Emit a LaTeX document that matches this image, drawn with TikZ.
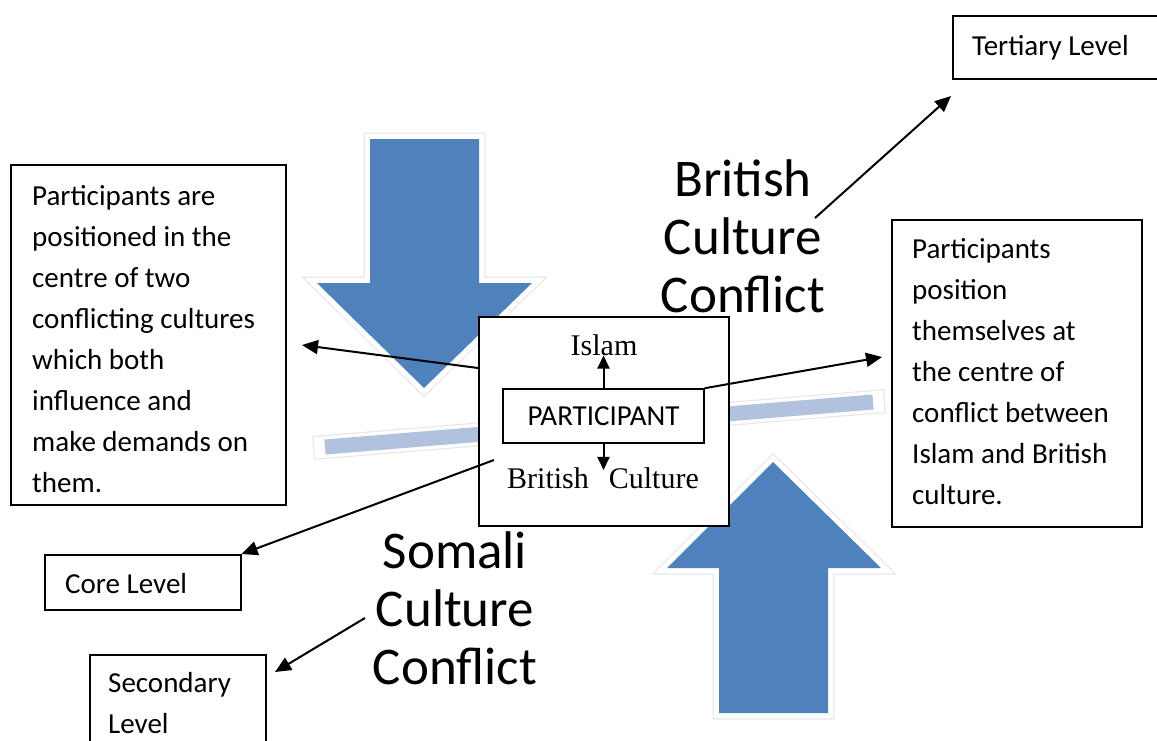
\documentclass[tikz,border=0pt]{standalone}
\usepackage{fontspec}
\newfontfamily\calibri{Carlito}
\newfontfamily\cambria{Liberation Serif}
\usetikzlibrary{arrows.meta,calc}
\definecolor{arrowblue}{RGB}{79,129,189}
\definecolor{barblue}{RGB}{176,194,222}
\begin{document}
\begin{tikzpicture}[x=1pt,y=-1pt,
  box/.style={draw, line width=1.6pt, fill=white, inner sep=0pt, anchor=north west},
  conn/.style={line width=2pt, -{Triangle[length=16pt,width=14pt]}},
  small/.style={line width=2pt, -{Triangle[length=13pt,width=12pt]}},
  body/.style={font=\calibri\fontsize{29}{41}\selectfont, inner sep=0pt, anchor=base west},
  big/.style={font=\calibri\fontsize{53}{58}\selectfont, inner sep=0pt, anchor=base},
  ser/.style={font=\cambria\fontsize{30}{34}\selectfont, inner sep=0pt, anchor=base},
  bigarrow/.style={fill=arrowblue,
    preaction={draw=black!9, line width=13pt},
    preaction={draw=white, line width=10.5pt}}]
\useasboundingbox (0,0) rectangle (1157,740);
\fill[white] (0,0) rectangle (1157,740);

% big block arrows
\path[bigarrow] (370,139) -- (479,139) -- (479,283) -- (532,283) -- (424,388)
  -- (317,283) -- (370,283) -- cycle;
\path[bigarrow] (719,713) -- (828,713) -- (828,568) -- (881,568) -- (773,462)
  -- (667,568) -- (719,568) -- cycle;

% tilted bar
\draw[barblue, line width=15pt,
  preaction={draw=black!9, line width=24pt, line cap=rect},
  preaction={draw=white, line width=21.5pt, line cap=rect}]
  (325,447) -- (873,402);

% big captions
\node[big] (bcc) at (743,196) {\parbox[t]{260pt}{\centering British\\Culture\\Conflict}};
\node[big] (scc) at (455,568) {\parbox[t]{260pt}{\centering Somali\\Culture\\Conflict}};

% centre
\node[box, minimum width=250pt, minimum height=209pt] (centre) at (478,316) {};
\node[box, minimum width=201pt, minimum height=54pt, anchor=center,
  font=\calibri\fontsize{29}{34}\selectfont] (part) at (603.5,416) {PARTICIPANT};
\node[ser] (islam) at (604,355) {Islam};
\node[ser] (bc) at (603,488) {British\hspace{20pt}Culture};
\draw[small] (part.north) -- (part.north |- islam.south);
\draw[small, shorten >=-3pt] (part.south) -- (part.south |- bc.north);

% left text box
\node[box, minimum width=275pt, minimum height=340pt] (lbox) at (10,164) {};
\node[body] (ltext) at (32,205) {\parbox[t]{250pt}{Participants are\\positioned in the\\centre of two\\conflicting cultures\\which both\\influence and\\make demands on\\them.}};

% right text box
\node[box, minimum width=250pt, minimum height=307pt] (rbox) at (891,219) {};
\node[body] (rtext) at (912,258) {\parbox[t]{225pt}{Participants\\position\\themselves at\\the centre of\\conflict between\\Islam and British\\culture.}};

% level boxes
\node[box, minimum width=215pt, minimum height=63pt] (tert) at (952,15) {};
\node[body] (terttext) at (972,55) {Tertiary Level};
\node[box, minimum width=196pt, minimum height=55pt] (core) at (44,554) {};
\node[body] (coretext) at (65,593) {Core Level};
\node[box, minimum width=176pt, minimum height=100pt] (sec) at (89,654) {};
\node[body] (sectext) at (108,692) {\parbox[t]{150pt}{Secondary\\Level}};

% connectors
\coordinate (lstart) at (478,368);
\coordinate (ltip) at (302,345);
\coordinate (rtip) at (882,357);
\coordinate (cstart) at (494,460);
\coordinate (sstart) at (365,618);
\coordinate (stip) at (275,672);
\coordinate (tstart) at (815,218);
\coordinate (ttip) at (951,96);
\draw[conn] (lstart) -- (ltip);
\draw[conn] (part.north east) -- (rtip);
\draw[conn] (cstart) -- (core.north east);
\draw[conn] (sstart) -- (stip);
\draw[conn] (tstart) -- (ttip);
\end{tikzpicture}
\end{document}
